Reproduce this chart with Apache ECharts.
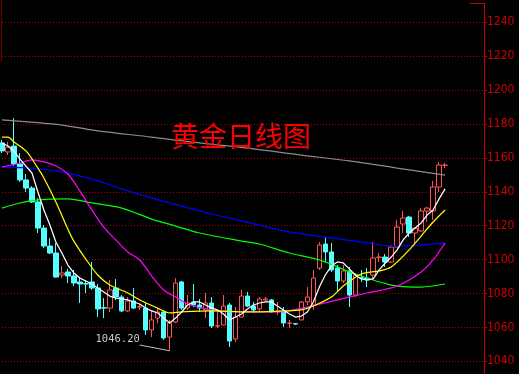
<!DOCTYPE html>
<html>
<head>
<meta charset="utf-8">
<script src="https://cdn.jsdelivr.net/npm/echarts@6/dist/echarts.min.js"></script>
<style>
  html, body { margin: 0; padding: 0; background: #000; }
  #chart { width: 519px; height: 374px; }
</style>
</head>
<body>
<div id="chart"></div>
<script>
// Trading-day slots (the last few are left empty as right-side padding)
const days = Array.from({ length: 81 }, (_, i) => 'D' + (i + 1));

// Daily gold prices
const opens = [
  1168.8, 1163.5, 1167.0, 1156.4, 1147.0, 1142.2, 1134.0, 1118.6, 1108.0, 1103.9,
  1090.9, 1092.7, 1090.3, 1086.8, 1085.8, 1086.8, 1083.2, 1071.6, 1071.4, 1083.2,
  1077.9, 1069.7, 1075.6, 1072.0, 1071.4, 1058.5, 1065.5, 1069.1, 1054.3, 1063.2,
  1086.8, 1071.4, 1075.0, 1073.2, 1070.3, 1074.4, 1060.8, 1061.4, 1073.2, 1053.2,
  1066.1, 1078.5, 1072.6, 1070.9, 1076.2, 1076.2, 1069.1, 1069.1, 1062.4, 1062.2,
  1064.4, 1075.0, 1073.2, 1095.0, 1109.2, 1104.5, 1095.0, 1087.4, 1093.3, 1079.1,
  1089.2, 1089.1, 1090.9, 1101.3, 1101.5, 1098.6, 1107.4, 1121.0, 1125.1, 1115.7,
  1116.9, 1128.7, 1128.7, 1142.8, 1155.6
];
const closes = [
  1164.1, 1166.4, 1156.4, 1147.0, 1142.2, 1134.0, 1118.6, 1108.0, 1103.9, 1089.7,
  1092.1, 1090.3, 1086.2, 1085.6, 1085.6, 1083.2, 1070.9, 1071.4, 1082.1, 1077.9,
  1069.7, 1075.6, 1071.4, 1072.2, 1058.5, 1064.4, 1069.1, 1053.8, 1062.6, 1086.2,
  1071.4, 1074.4, 1073.2, 1071.4, 1074.4, 1060.8, 1061.0, 1072.6, 1052.0, 1066.1,
  1078.5, 1072.6, 1070.3, 1076.8, 1076.8, 1069.1, 1069.7, 1062.6, 1062.6, 1062.0,
  1075.0, 1077.9, 1089.1, 1108.6, 1104.5, 1093.9, 1087.4, 1093.3, 1079.1, 1090.9,
  1089.1, 1088.0, 1100.9, 1101.5, 1098.6, 1107.4, 1119.2, 1124.5, 1115.7, 1118.6,
  1128.7, 1130.4, 1142.8, 1155.8, 1155.8
];
const lows = [
  1162.9, 1161.7, 1155.2, 1145.8, 1139.9, 1133.4, 1115.7, 1106.8, 1103.3, 1089.4,
  1089.1, 1086.2, 1084.4, 1074.4, 1080.3, 1082.1, 1066.1, 1065.5, 1069.1, 1076.2,
  1069.1, 1069.1, 1070.9, 1070.3, 1055.5, 1054.3, 1062.6, 1052.6, 1046.2, 1062.6,
  1070.3, 1070.3, 1072.0, 1069.1, 1065.5, 1059.6, 1059.6, 1061.4, 1048.4, 1051.4,
  1066.1, 1072.0, 1068.5, 1069.7, 1075.0, 1068.5, 1067.3, 1060.2, 1059.6, 1061.4,
  1064.4, 1073.2, 1070.3, 1093.9, 1098.6, 1092.7, 1080.9, 1086.2, 1072.0, 1077.9,
  1086.8, 1083.8, 1088.0, 1098.6, 1095.6, 1098.0, 1107.4, 1115.7, 1113.3, 1109.8,
  1116.3, 1122.2, 1123.4, 1139.9, 1154.0
];
const highs = [
  1170.6, 1169.4, 1183.5, 1162.9, 1150.5, 1143.4, 1136.3, 1120.4, 1112.7, 1109.8,
  1096.2, 1094.5, 1093.9, 1089.7, 1088.0, 1098.6, 1085.6, 1077.3, 1088.0, 1088.5,
  1079.1, 1077.9, 1083.2, 1073.8, 1074.4, 1070.3, 1071.4, 1069.1, 1064.4, 1089.1,
  1087.4, 1079.1, 1085.6, 1076.8, 1080.3, 1077.9, 1069.1, 1079.1, 1074.4, 1072.0,
  1082.1, 1080.9, 1075.0, 1077.9, 1077.9, 1076.8, 1075.0, 1072.0, 1064.4, 1062.6,
  1075.6, 1083.8, 1093.9, 1110.4, 1113.3, 1109.8, 1096.8, 1096.8, 1095.6, 1092.1,
  1093.9, 1095.0, 1110.4, 1103.9, 1103.3, 1108.6, 1123.4, 1128.7, 1125.7, 1119.2,
  1130.4, 1131.0, 1146.4, 1157.6, 1157.0
];

// Moving averages
const ma5 = [
  1168.8, 1167.0, 1164.1, 1159.3, 1155.2, 1151.1, 1139.9, 1129.3, 1120.4, 1110.4,
  1103.9, 1096.8, 1092.1, 1089.1, 1087.4, 1085.6, 1083.2, 1080.9, 1078.5, 1077.3,
  1076.8, 1076.2, 1075.0, 1073.8, 1071.4, 1069.7, 1068.5, 1065.5, 1062.6, 1065.5,
  1069.1, 1073.2, 1075.0, 1075.0, 1073.2, 1071.4, 1070.3, 1067.9, 1064.4, 1066.1,
  1067.9, 1070.9, 1073.2, 1074.4, 1075.0, 1075.0, 1072.6, 1070.3, 1067.9, 1066.1,
  1066.7, 1069.1, 1075.0, 1083.8, 1090.9, 1096.2, 1098.6, 1098.0, 1094.5, 1090.9,
  1088.6, 1088.0, 1088.6, 1093.9, 1098.0, 1101.5, 1105.7, 1111.6, 1115.7, 1118.6,
  1121.6, 1126.3, 1129.3, 1135.8, 1141.7
];
const ma10 = [
  [0, 1172.3], [1, 1172.3], [2, 1169.4], [4, 1164.1], [6, 1154.0], [7, 1148.1],
  [9, 1134.0], [11, 1118.0], [12, 1110.9], [14, 1100.3], [16, 1090.9], [18, 1085.0],
  [21, 1080.3], [23, 1076.2], [26, 1071.4], [28, 1068.5], [30, 1069.1], [35, 1069.7],
  [41, 1069.1], [47, 1069.7], [50, 1070.3], [52, 1072.6], [55, 1077.9], [57, 1084.4],
  [60, 1091.5], [63, 1093.3], [65, 1095.6], [68, 1105.7], [70, 1113.9], [72, 1122.2],
  [74, 1129.3]
];
const ma20 = [
  [0, 1154.6], [3, 1157.0], [5, 1158.8], [7, 1157.6], [9, 1155.2], [11, 1150.5],
  [13, 1140.5], [15, 1129.3], [17, 1119.2], [19, 1111.6], [21, 1104.5], [23, 1099.8],
  [25, 1090.3], [27, 1082.1], [29, 1077.9], [31, 1073.8], [35, 1070.3], [40, 1069.1],
  [46, 1069.1], [51, 1072.0], [56, 1076.2], [61, 1080.3], [66, 1084.4], [70, 1092.7],
  [72, 1099.8], [74, 1109.8]
];
const ma60 = [
  [0, 1130.4], [3, 1133.4], [6, 1135.2], [11, 1135.8], [15, 1133.4], [20, 1130.4],
  [25, 1123.9], [29, 1119.8], [33, 1115.7], [40, 1110.9], [43, 1109.2], [48, 1103.9],
  [53, 1099.8], [59, 1091.5], [65, 1085.0], [70, 1083.8], [74, 1085.6]
];
const ma120 = [
  [0, 1154.6], [5, 1154.0], [10, 1151.7], [15, 1147.5], [20, 1141.7], [25, 1136.3],
  [30, 1131.6], [35, 1126.9], [40, 1122.8], [45, 1118.6], [49, 1115.7], [54, 1113.3],
  [60, 1110.4], [65, 1108.0], [70, 1108.6], [74, 1109.8]
];
const ma250 = [
  [0, 1182.4], [10, 1179.4], [16, 1175.9], [25, 1172.3], [33, 1168.8], [41, 1165.8],
  [50, 1161.7], [58, 1158.2], [66, 1154.0], [74, 1149.9]
];

// Price axis ticks
const priceTicks = [1040, 1060, 1080, 1100, 1120, 1140, 1160, 1180, 1200, 1220, 1240];

const title = '黄金日线图';

const kData = opens.map((o, i) => [o, closes[i], lows[i], highs[i]]);
const lowest = Math.min(...lows);
const lowIdx = lows.indexOf(lowest);

const UP = '#ff5454';
const DOWN = '#54ffff';
const AXIS_RED = '#d40000';

function maLine(name, data, color, smooth) {
  return {
    name, type: 'line', data, smooth,
    connectNulls: true, symbol: 'none', silent: true,
    lineStyle: { color, width: 1.25 }, z: 3
  };
}

const chart = echarts.init(document.getElementById('chart'), null, { renderer: 'canvas' });
chart.setOption({
  animation: false,
  backgroundColor: '#000000',
  title: {
    text: title, left: 166, top: 117,
    textStyle: { color: '#ff0000', fontSize: 28, fontWeight: 'normal', fontFamily: 'Noto Sans CJK SC' }
  },
  grid: {
    left: -1, right: 35, top: -11.6, bottom: -21.2,
    containLabel: false, outerBoundsMode: 'none'
  },
  xAxis: {
    type: 'category', data: days, boundaryGap: true, show: false
  },
  yAxis: {
    type: 'value', position: 'right', min: 1020, max: 1260, interval: 20,
    axisLine: { show: false },
    axisTick: { show: true, length: 3, lineStyle: { color: AXIS_RED } },
    axisLabel: {
      margin: 3, color: '#d00000', fontSize: 12,
      fontFamily: '"Liberation Sans Narrow", "DejaVu Sans Condensed", sans-serif',
      showMinLabel: false, showMaxLabel: false,
      formatter: v => priceTicks.includes(v) ? String(v) : ''
    },
    splitLine: { show: true, lineStyle: { color: '#b00000', width: 1, type: [1, 2] } }
  },
  graphic: [
    { type: 'line', silent: true, shape: { x1: 484.5, y1: 3, x2: 484.5, y2: 374 }, style: { stroke: AXIS_RED, lineWidth: 1 } },
    { type: 'line', silent: true, shape: { x1: 470, y1: 3.5, x2: 484.5, y2: 3.5 }, style: { stroke: AXIS_RED, lineWidth: 1 } },
    { type: 'line', silent: true, shape: { x1: 1.5, y1: 0, x2: 1.5, y2: 62 }, style: { stroke: '#700000', lineWidth: 1 } }
  ],
  series: [
    {
      name: 'K', type: 'candlestick', data: kData, barWidth: 5,
      itemStyle: {
        color: '#000000', color0: DOWN,
        borderColor: UP, borderColor0: DOWN, borderWidth: 1
      },
      markLine: {
        silent: true, symbol: ['none', 'none'],
        label: { show: false },
        lineStyle: { color: '#c0c0c0', width: 1, type: 'solid' },
        data: [[{ coord: [lowIdx - 4.67, lowest + 3.4] }, { coord: [lowIdx, lowest] }]]
      },
      markPoint: {
        silent: true, symbol: 'circle', symbolSize: 0,
        label: {
          show: true, position: 'inside', offset: [-52, -12],
          color: '#c8c8c8', fontSize: 10.5, fontFamily: 'DejaVu Sans Mono',
          formatter: p => Number(p.value).toFixed(2)
        },
        data: [{ coord: [lowIdx, lowest], value: lowest }]
      },
      z: 2
    },
    maLine('MA250', ma250, '#8c8c8c', 0.3),
    maLine('MA120', ma120, '#0000ff', 0.3),
    maLine('MA60', ma60, '#00ff00', 0.3),
    maLine('MA20', ma20, '#ff00ff', 0.3),
    maLine('MA10', ma10, '#ffff00', 0.3),
    maLine('MA5', ma5, '#ffffff', false)
  ]
});
</script>
</body>
</html>
